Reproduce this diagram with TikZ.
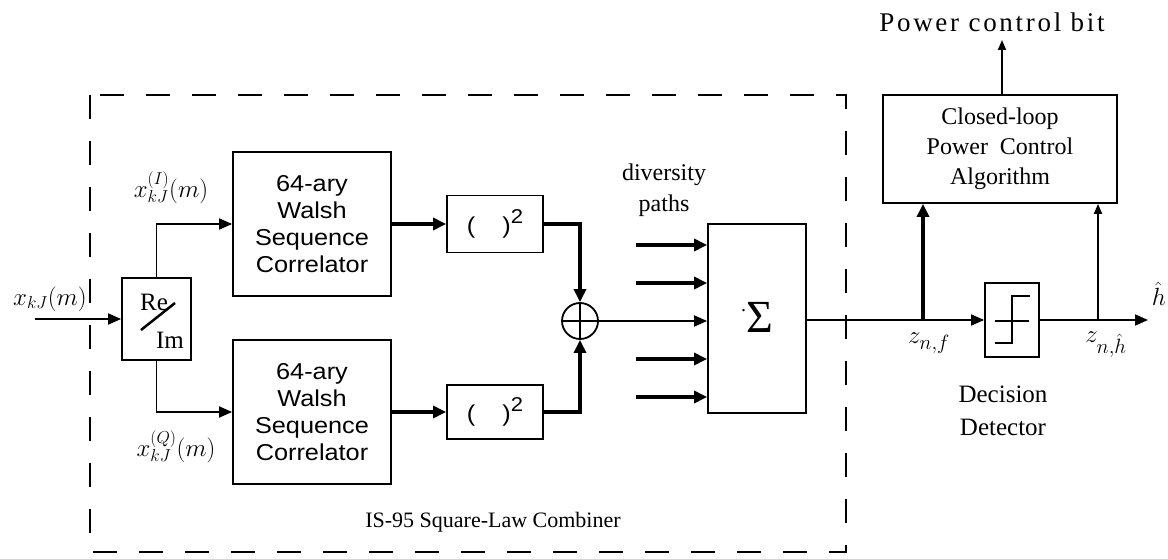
\documentclass[tikz,border=0pt]{standalone}
\usepackage{fontspec}
\setmainfont{Liberation Serif}
\newfontfamily\arialf[FakeStretch=1.1]{Liberation Sans}
\newfontfamily\pcbfont[LetterSpace=10]{Liberation Serif}
\usetikzlibrary{arrows.meta}
\tikzset{
  box/.style={draw, line width=1.8pt, rectangle, inner sep=0pt},
  conn/.style={line width=1.8pt, -{Triangle[length=13pt,width=11pt]}},
  smallconn/.style={line width=1.8pt, -{Triangle[length=10pt,width=8pt]}},
  thickconn/.style={line width=3.2pt, -{Triangle[length=13pt,width=12pt]}},
  plain/.style={line width=1.8pt},
  sanslbl/.style={font=\arialf\fontsize{23}{27}\selectfont, align=center},
  seriflbl/.style={font=\fontsize{24}{30}\selectfont, align=center},
  mathlbl/.style={font=\fontsize{25}{25}\selectfont, inner sep=0pt},
}
\begin{document}
\begin{tikzpicture}[x=1pt,y=-1pt]
\useasboundingbox (0,0) rectangle (1168,559);
% dashed frame
\draw[line width=2pt, dash pattern=on 24pt off 22pt] (90,95) rectangle (846,552);
\node[font=\fontsize{22}{22}\selectfont] (islbl) at (493,522) {IS-95 Square-Law Combiner};

% blocks
\node[box, minimum width=69pt, minimum height=82pt] (reim) at (156.5,319) {};
\node[font=\fontsize{25}{25}\selectfont, inner sep=0pt] (re) at (154,302) {Re};
\node[font=\fontsize{25}{25}\selectfont, inner sep=0pt] (im) at (170,340) {Im};
\draw[line width=2.5pt] (141,330) -- (175,303);

\node[box, minimum width=158pt, minimum height=144pt, sanslbl] (w1) at (312,224) {64-ary\\Walsh\\Sequence\\Correlator};
\node[box, minimum width=158pt, minimum height=144pt, sanslbl] (w2) at (312,412) {64-ary\\Walsh\\Sequence\\Correlator};

\node[box, minimum width=96pt, minimum height=57pt, sanslbl] (sq1) at (495,224) {(\hspace{27pt})\raisebox{0.45em}{\fontsize{20}{20}\selectfont 2}};
\node[box, minimum width=96pt, minimum height=54pt, sanslbl] (sq2) at (495,412) {(\hspace{27pt})\raisebox{0.45em}{\fontsize{20}{20}\selectfont 2}};

\node[circle, draw, line width=1.8pt, minimum size=36pt, inner sep=0pt] (sum) at (580,321) {};
\draw[plain] (sum.north) -- (sum.south);
\draw[plain] (sum.west) -- (sum.east);

\node[box, minimum width=98pt, minimum height=189pt] (sig) at (757,318.5) {};
\node[font=\fontsize{46}{46}\selectfont, inner sep=0pt] (sigtxt) at (757,317) {\raisebox{0.45em}{\fontsize{20}{20}\selectfont.}Σ};

\node[seriflbl, font=\fontsize{24}{31}\selectfont] (div) at (664,190) {diversity\\paths};

\node[box, minimum width=54pt, minimum height=74pt] (dec) at (1012,320) {};
\draw[plain] (995,321) -- (1029,321);
\draw[plain] (995,343) -- (1012,343) -- (1012,296) -- (1030,296);
\node[seriflbl, font=\fontsize{25}{33}\selectfont] (declbl) at (1003,411) {Decision\\Detector};

\node[box, minimum width=234pt, minimum height=108pt, seriflbl] (cl) at (1000,149) {Closed-loop\\Power\ \ Control\\Algorithm};
\node[font=\pcbfont\fontsize{27}{27}\selectfont, inner sep=0pt] (pcb) at (992,22) {Power control bit};

% labels
\node[mathlbl] (lx) at (50,299) {$x_{kJ}(m)$};
\node[mathlbl] (lxi) at (171,188) {$x^{(I)}_{kJ}(m)$};
\node[mathlbl] (lxq) at (176,447) {$x^{(Q)}_{kJ}(m)$};
\node[mathlbl, font=\fontsize{31}{31}\selectfont] (lzf) at (929,343) {$z_{n,f}$};
\node[mathlbl, font=\fontsize{31}{31}\selectfont] (lzh) at (1106,345) {$z_{n,\hat h}$};
\node[mathlbl, font=\fontsize{27}{27}\selectfont] (lh) at (1159,294) {$\hat h$};

% coordinates
\coordinate (in) at (35,319);
\coordinate (j1) at (923,320);
\coordinate (j2) at (1098,320);
\coordinate (out) at (1148,320);
\coordinate (d1) at (636,245);
\coordinate (d2) at (636,283);
\coordinate (d4) at (636,359);
\coordinate (d5) at (636,397);
\coordinate (pcbend) at (1002,40);

% connectors
\draw[conn] (in) -- (reim.west);
\draw[conn] (reim.north) |- (w1.west);
\draw[conn] (reim.south) |- (w2.west);
\draw[thickconn] (w1.east) -- (sq1.west);
\draw[thickconn] (w2.east) -- (sq2.west);
\draw[thickconn] (sq1.east) -| (sum.north);
\draw[thickconn] (sq2.east) -| (sum.south);
\draw[conn] (sum.east) -- (sum.east -| sig.west);
\draw[thickconn] (d1) -- (d1 -| sig.west);
\draw[thickconn] (d2) -- (d2 -| sig.west);
\draw[thickconn] (d4) -- (d4 -| sig.west);
\draw[thickconn] (d5) -- (d5 -| sig.west);
\draw[conn] (sig.east |- dec.west) -- (dec.west);
\draw[thickconn] (j1) -- (j1 |- cl.south);
\draw[conn] (dec.east) -- (out);
\draw[smallconn] (j2) -- (j2 |- cl.south);
\draw[smallconn] (pcbend |- cl.north) -- (pcbend);
\end{tikzpicture}
\end{document}
